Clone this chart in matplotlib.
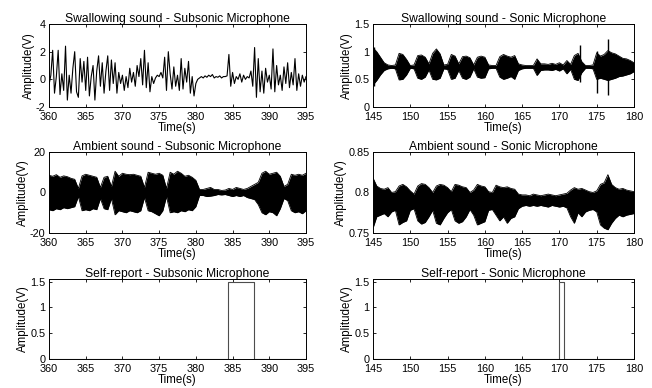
import numpy as np
import matplotlib
matplotlib.use('Agg')
import matplotlib.pyplot as plt

plt.rcParams['font.family'] = ['Liberation Sans', 'DejaVu Sans']
plt.rcParams['font.size'] = 8

# swallowing sound, subsonic mic (360-395 s, one value every 0.25 s)
sub_swallow = [
    -0.4, 0.3, 2.1, -1.0,
    0.2, 2.1, -1.1, 0.4,
    -0.8, 2.4, -1.5, 0.3,
    -1.0, 0.8, 2.0, -0.9,
    -1.3, 1.5, -0.2, 1.3,
    -0.8, 1.6, -1.2, 0.2,
    1.0, -1.5, 0.6, 1.7,
    -0.5, 1.2, -1.0, 0.6,
    1.7, -0.8, 1.4, -0.3,
    1.2, -1.0, 0.5, -0.3,
    0.3, -0.8, 0.2, -0.6,
    0.8, -0.2, 0.5, -0.5,
    1.0, 0.2, 1.5, -0.4,
    2.1, -0.6, 1.2, -0.9,
    0.2, -0.3, 0.1, 0.3,
    0.2, 0.5, 0.1, 1.6,
    -0.8, 2.0, 0.4, -0.7,
    0.9, -0.5, 0.3, -0.8,
    1.5, -0.7, 0.8, -0.2,
    1.3, -1.0, 0.2, -1.2,
    -0.3, 0.0, 0.1, 0.2,
    0.1, 0.25, 0.15, 0.3,
    0.2, 0.35, 0.1, 0.2,
    0.15, 0.25, 0.1, 0.2,
    0.2, 0.25, 1.8, -0.5,
    0.5, -0.3, 0.2, 0.0,
    0.4, -0.2, 0.3, 0.0,
    0.2, 0.1, 0.6, -0.5,
    2.3, -1.3, 1.5, -0.9,
    0.6, -1.0, 0.8, -0.2,
    0.3, -0.7, 2.2, -0.9,
    1.0, -0.4, 0.3, -0.8,
    0.9, -0.3, 1.2, -0.6,
    0.5, -0.4, 1.5, -0.8,
    0.4, -0.5, 0.3, -0.2,
    0.2,
]

# swallowing sound, sonic mic: envelope every 0.5 s, 145-180 s
son_swallow_hi = [
    1.07, 1.00, 0.90, 0.80, 0.76, 0.75, 0.76, 0.97, 0.95, 0.86,
    0.75, 0.76, 0.93, 0.94, 0.90, 0.78, 0.97, 1.05, 0.96, 0.76,
    0.77, 0.95, 0.92, 0.78, 0.91, 0.92, 0.89, 0.76, 0.90, 0.92,
    0.90, 0.76, 0.75, 0.75, 0.91, 0.95, 0.92, 0.90, 0.93, 0.78,
    0.76, 0.75, 0.75, 0.75, 0.87, 0.78, 0.78, 0.77, 0.79, 0.77,
    0.80, 0.76, 0.84, 0.77, 0.93, 0.97, 0.82, 0.75, 0.75, 0.76,
    0.98, 0.92, 0.95, 1.02, 0.98, 0.96, 0.92, 0.88, 0.87, 0.84,
    0.80,
]
son_swallow_lo = [
    0.40, 0.48, 0.58, 0.66, 0.69, 0.70, 0.69, 0.49, 0.50, 0.58,
    0.70, 0.69, 0.52, 0.50, 0.54, 0.67, 0.50, 0.49, 0.52, 0.69,
    0.68, 0.50, 0.52, 0.66, 0.52, 0.50, 0.54, 0.69, 0.54, 0.52,
    0.53, 0.69, 0.70, 0.70, 0.54, 0.50, 0.52, 0.55, 0.50, 0.66,
    0.69, 0.70, 0.70, 0.70, 0.57, 0.66, 0.67, 0.67, 0.66, 0.68,
    0.65, 0.69, 0.60, 0.68, 0.50, 0.48, 0.62, 0.70, 0.70, 0.69,
    0.50, 0.52, 0.50, 0.48, 0.50, 0.52, 0.55, 0.56, 0.58, 0.60,
    0.64,
]
spike_t = [145.1, 172.8, 175.0, 176.5]
spike_hi = [1.08, 1.12, 1.02, 1.23]
spike_lo = [0.38, 0.45, 0.25, 0.22]

# ambient sound, subsonic mic: envelope every 0.5 s, 360-395 s
sub_amb_hi = [
    8.5, 8.0, 8.8, 7.5, 8.2, 7.8, 7.0, 6.5, 2.0, 8.2,
    9.0, 8.5, 8.0, 7.5, 2.5, 7.5, 8.0, 3.0, 10.5, 8.0,
    9.5, 9.0, 8.8, 9.0, 8.5, 8.0, 2.5, 10.0, 9.5, 9.0,
    9.5, 8.5, 2.0, 10.0, 9.0, 10.5, 9.5, 8.0, 8.5, 7.5,
    6.0, 1.5, 1.5, 2.0, 2.5, 1.5, 1.5, 1.0, 1.2, 2.0,
    1.5, 2.5, 2.0, 1.5, 2.0, 3.0, 4.0, 5.0, 9.5, 10.5,
    9.0, 9.5, 10.0, 8.0, 3.0, 4.0, 9.0, 8.5, 9.0, 8.5,
    9.5,
]
sub_amb_lo = [
    -8.5, -9.0, -8.0, -8.5, -7.5, -8.0, -7.5, -7.0, -2.0, -9.0,
    -8.5, -9.0, -8.0, -8.5, -3.0, -8.0, -8.5, -3.0, -11.0, -9.0,
    -9.5, -10.0, -9.0, -9.5, -10.0, -9.0, -2.5, -9.0, -9.5, -10.5,
    -11.5, -9.0, -2.0, -10.0, -9.5, -10.0, -9.0, -9.5, -8.5, -9.0,
    -7.0, -1.5, -1.5, -2.0, -1.8, -1.5, -1.0, -1.2, -1.0, -1.5,
    -2.0, -1.5, -2.0, -1.5, -2.5, -3.0, -3.5, -6.0, -10.0, -11.0,
    -9.5, -10.0, -11.5, -8.0, -3.0, -4.0, -9.0, -10.0, -9.5, -10.5,
    -9.0,
]

# ambient sound, sonic mic: envelope every 0.5 s, 145-180 s
son_amb_hi = [
    0.818, 0.808, 0.805, 0.804, 0.806, 0.800, 0.801, 0.808, 0.810, 0.807,
    0.802, 0.798, 0.808, 0.811, 0.810, 0.806, 0.800, 0.808, 0.810, 0.809,
    0.806, 0.801, 0.810, 0.809, 0.807, 0.806, 0.800, 0.803, 0.810, 0.808,
    0.807, 0.801, 0.800, 0.809, 0.807, 0.806, 0.807, 0.805, 0.804, 0.798,
    0.797, 0.797, 0.796, 0.798, 0.797, 0.796, 0.797, 0.798, 0.797, 0.796,
    0.797, 0.798, 0.799, 0.803, 0.806, 0.804, 0.805, 0.803, 0.801, 0.800,
    0.802, 0.810, 0.812, 0.822, 0.810, 0.806, 0.804, 0.805, 0.803, 0.802,
    0.801,
]
son_amb_lo = [
    0.756, 0.770, 0.772, 0.774, 0.770, 0.776, 0.778, 0.760, 0.763, 0.765,
    0.778, 0.780, 0.765, 0.761, 0.763, 0.770, 0.778, 0.762, 0.760, 0.768,
    0.775, 0.779, 0.765, 0.762, 0.764, 0.770, 0.779, 0.772, 0.760, 0.762,
    0.764, 0.778, 0.779, 0.772, 0.765, 0.770, 0.762, 0.768, 0.770, 0.780,
    0.783, 0.784, 0.783, 0.784, 0.783, 0.784, 0.783, 0.782, 0.784, 0.783,
    0.782, 0.783, 0.781, 0.770, 0.762, 0.775, 0.770, 0.776, 0.778, 0.779,
    0.776, 0.760, 0.756, 0.754, 0.762, 0.768, 0.772, 0.770, 0.772, 0.773,
    0.774,
]

# self-report pulses (start, end, level)
sub_report = (384.4, 387.9, 1.5)
son_report = (170.0, 170.6, 1.5)

t_sub_fine = np.linspace(360, 395, len(sub_swallow))
t_sub = np.linspace(360, 395, len(sub_amb_hi))
t_son = np.linspace(145, 180, len(son_swallow_hi))

fig = plt.figure(figsize=(6.52, 3.88), dpi=100)
lx, rx = 49 / 652, 373 / 652
lw_, rw_ = 257 / 652, 261 / 652
rows = [(0.7242, 0.2139), (0.3995, 0.2088), (0.0747, 0.2062)]
axs = [[fig.add_axes([lx, b, lw_, h]), fig.add_axes([rx, b, rw_, h])] for b, h in rows]


def style(ax, title, xlim, ylim, yticks, ylabels):
    ax.set_xlim(*xlim)
    ax.set_ylim(*ylim)
    ax.set_xticks(np.arange(xlim[0], xlim[1] + 1, 5))
    ax.set_yticks(yticks)
    ax.set_yticklabels(ylabels)
    ax.tick_params(direction='in', top=True, right=True, length=2.5, width=0.6, labelsize=7.8)
    ax.tick_params(axis='x', pad=3.3)
    ax.tick_params(axis='y', pad=2.5)
    ax.set_title(title, fontsize=8.7, pad=1.5)
    ax.set_xlabel('Time(s)', labelpad=0, fontsize=8.3)
    ax.set_ylabel('Amplitude(V)', labelpad=1, fontsize=8.3)
    for s in ax.spines.values():
        s.set_linewidth(0.7)


def burst(ax, t, lo, hi):
    # dense waveform drawn as its envelope
    ax.fill_between(t, lo, hi, color='k', lw=0)
    ax.plot(t, hi, color='k', lw=0.6)
    ax.plot(t, lo, color='k', lw=0.6)


ax = axs[0][0]
ax.plot(t_sub_fine, sub_swallow, color='k', lw=0.8)
style(ax, 'Swallowing sound - Subsonic Microphone', (360, 395), (-2, 4), [-2, 0, 2, 4], ['-2', '0', '2', '4'])

ax = axs[0][1]
burst(ax, t_son, son_swallow_lo, son_swallow_hi)
ax.vlines(spike_t, spike_lo, spike_hi, color='k', lw=1.0)
ax.axhline(0.72, color='k', lw=0.8)
style(ax, 'Swallowing sound - Sonic Microphone', (145, 180), (0, 1.5), [0, 0.5, 1, 1.5], ['0', '0.5', '1', '1.5'])

ax = axs[1][0]
burst(ax, t_sub, sub_amb_lo, sub_amb_hi)
style(ax, 'Ambient sound - Subsonic Microphone', (360, 395), (-20, 20), [-20, 0, 20], ['-20', '0', '20'])

ax = axs[1][1]
burst(ax, t_son, son_amb_lo, son_amb_hi)
style(ax, 'Ambient sound - Sonic Microphone', (145, 180), (0.75, 0.85), [0.75, 0.8, 0.85], ['0.75', '0.8', '0.85'])

for ax, rep, xlim, title in [(axs[2][0], sub_report, (360, 395), 'Self-report - Subsonic Microphone'),
                             (axs[2][1], son_report, (145, 180), 'Self-report - Sonic Microphone')]:
    x0, x1, lvl = rep
    ax.step([xlim[0], x0, x1, xlim[1]], [0, lvl, 0, 0], where='post', color='0.3', lw=0.8)
    style(ax, title, xlim, (0, 1.55), [0, 0.5, 1, 1.5], ['0', '0.5', '1', '1.5'])

fig.savefig('out.png', dpi=100)
